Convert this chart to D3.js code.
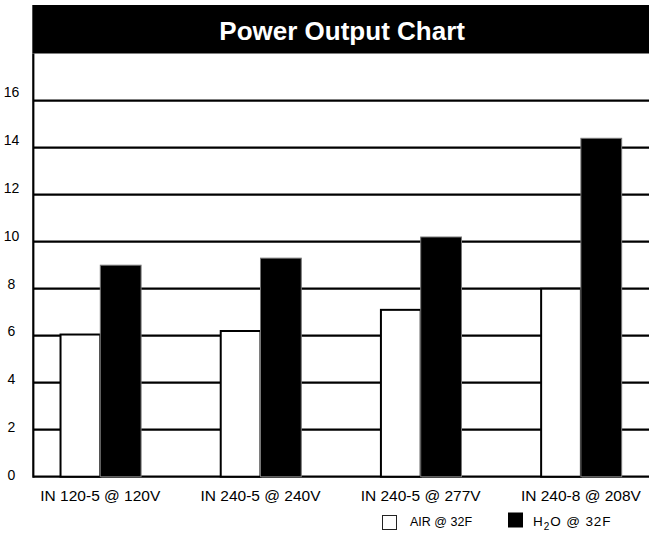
<!DOCTYPE html>
<html>
<head>
<meta charset="utf-8">
<script src="https://cdn.jsdelivr.net/npm/d3@7/dist/d3.min.js"></script>
<style>
  html, body { margin: 0; padding: 0; background: #fff; }
  svg { display: block; font-family: "Liberation Sans", Arial, Helvetica, sans-serif; }
</style>
</head>
<body>
<svg id="chart" width="649" height="543"></svg>
<script>
const title = "Power Output Chart";
const categories = ["IN 120-5 @ 120V", "IN 240-5 @ 240V", "IN 240-5 @ 277V", "IN 240-8 @ 208V"];
const seriesNames = ["AIR @ 32F", "H2O @ 32F"];
const airValues = [6.05, 6.2, 7.1, 8.0];
const h2oValues = [9.0, 9.3, 10.2, 14.4];
const yTicks = [0, 2, 4, 6, 8, 10, 12, 14, 16];

const svg = d3.select("#chart");
const W = 649;
const plotLeft = 33.3, plotRight = 649;
const titleTop = 5, titleBottom = 53.5;

const x = d3.scaleBand().domain(categories).range([20.2, 661]).paddingInner(0.491).paddingOuter(0.2455);
const x1 = d3.scaleBand().domain(seriesNames).range([0, x.bandwidth()]).padding(0);
const y = d3.scaleLinear().domain([0, 16]).range([476.7, 100.7]);
const yLabel = d3.scaleLinear().domain([0, 16]).range([475, 92]);

// Title band
svg.append("rect").attr("x", plotLeft - 1).attr("y", titleTop)
  .attr("width", W - plotLeft + 2).attr("height", titleBottom - titleTop).attr("fill", "#000");
svg.append("text").attr("x", (plotLeft + W) / 2 + 1).attr("y", 39.5)
  .attr("text-anchor", "middle").attr("fill", "#fff")
  .attr("font-size", 26).attr("font-weight", "bold").text(title);

// Grid lines
svg.append("g").selectAll("line").data(yTicks).join("line")
  .attr("x1", plotLeft).attr("x2", plotRight)
  .attr("y1", d => y(d)).attr("y2", d => y(d))
  .attr("stroke", "#000").attr("stroke-width", 2.2);

// Left border
svg.append("line").attr("x1", plotLeft).attr("x2", plotLeft)
  .attr("y1", titleBottom).attr("y2", y(0) + 1.1)
  .attr("stroke", "#000").attr("stroke-width", 2.2);

// Tick labels
svg.append("g").selectAll("text").data(yTicks).join("text")
  .attr("x", 11.5).attr("y", d => yLabel(d)).attr("dy", "0.36em")
  .attr("text-anchor", "middle").attr("font-size", 14).attr("fill", "#000")
  .text(d => d);

// Bars
const groups = svg.append("g").selectAll("g").data(categories).join("g")
  .attr("transform", d => `translate(${x(d)},0)`);

groups.append("rect")
  .attr("x", x1(seriesNames[0]) + 1)
  .attr("y", (d, i) => y(airValues[i]))
  .attr("width", x1.bandwidth() - 1)
  .attr("height", (d, i) => y(0) - y(airValues[i]))
  .attr("fill", "#fff").attr("stroke", "#000").attr("stroke-width", 2);

groups.append("rect")
  .attr("x", x1(seriesNames[1]))
  .attr("y", (d, i) => y(h2oValues[i]))
  .attr("width", x1.bandwidth())
  .attr("height", (d, i) => y(0) - y(h2oValues[i]))
  .attr("fill", "#000").attr("stroke", "#777").attr("stroke-width", 1);

// Category labels
svg.append("g").selectAll("text").data(categories).join("text")
  .attr("x", d => x(d) + x.bandwidth() / 2).attr("y", 500.5)
  .attr("text-anchor", "middle").attr("font-size", 15.5).attr("fill", "#000")
  .text(d => d);

// Legend
const leg = svg.append("g");
leg.append("rect").attr("x", 382.5).attr("y", 515.5).attr("width", 14).attr("height", 14)
  .attr("fill", "#fff").attr("stroke", "#222").attr("stroke-width", 1);
leg.append("text").attr("x", 410).attr("y", 525.5).attr("font-size", 12.5).attr("fill", "#000")
  .text(seriesNames[0]);
leg.append("rect").attr("x", 508).attr("y", 512.5).attr("width", 15).attr("height", 15)
  .attr("fill", "#000");
const t2 = leg.append("text").attr("x", 533).attr("y", 525.5).attr("font-size", 13.5)
  .attr("letter-spacing", 0.9).attr("fill", "#000");
t2.append("tspan").text("H");
t2.append("tspan").attr("dy", 4).attr("font-size", 10).text("2");
t2.append("tspan").attr("dy", -4).text("O @ 32F");
</script>
</body>
</html>
